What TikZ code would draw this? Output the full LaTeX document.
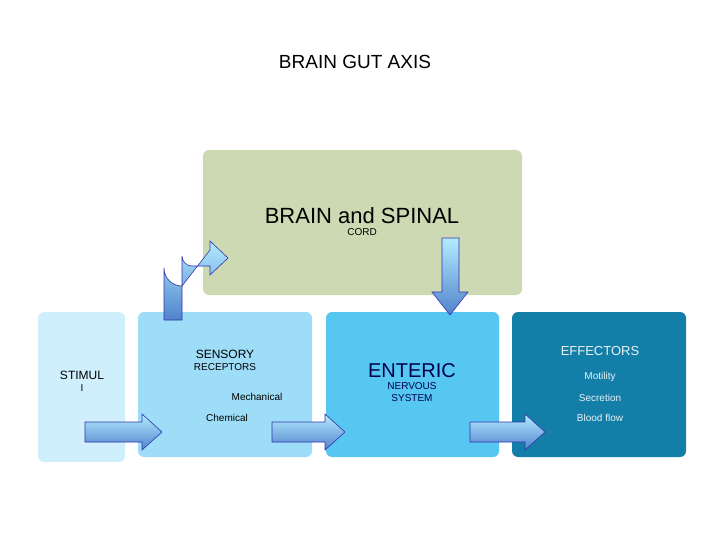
\documentclass[tikz,border=0pt]{standalone}
\usepackage{fontspec}
\setmainfont{Liberation Sans}
\begin{document}
\begin{tikzpicture}[x=1pt,y=-1pt,
  box/.style={rounded corners=6pt,draw=none},
  barrow/.style={draw=blue!60!black!80,line width=0.6pt,top color=blue!25!cyan!30,bottom color=blue!60!cyan!60!white!80!black}]
\useasboundingbox (0,0) rectangle (720,540);
\definecolor{g}{HTML}{CDD9B2}
\definecolor{c1}{HTML}{CFEFFC}
\definecolor{c2}{HTML}{9EDDF7}
\definecolor{c3}{HTML}{55C7F0}
\definecolor{c4}{HTML}{137FA8}
\node (title) at (355,62) {\fontsize{19}{22}\selectfont BRAIN GUT AXIS};
\fill[g,box] (203,150) rectangle (522,295);
\node[align=center] (brain) at (362,222) {\fontsize{22}{26}\selectfont BRAIN and SPINAL\\CORD};
\fill[c1,box] (38,312) rectangle (125,462);
\node[align=center] (stim) at (82,381) {\fontsize{12}{13}\selectfont STIMUL\\I};
\fill[c2,box] (138,312) rectangle (312,457);
\node[align=center] (sens) at (225,360) {\fontsize{12}{12}\selectfont SENSORY\\RECEPTORS};
\node (mech) at (257,397) {\fontsize{10}{12}\selectfont Mechanical};
\node (chem) at (227,418) {\fontsize{10}{12}\selectfont Chemical};
\fill[c3,box] (326,312) rectangle (499,457);
\node[align=center,text=blue!30!black] (ens) at (412,383) {\fontsize{20}{24}\selectfont ENTERIC\\NERVOUS\\SYSTEM};
\fill[c4,box] (512,312) rectangle (686,457);
\node[text=white!90!c4] (eff) at (600,351) {\fontsize{13}{14}\selectfont EFFECTORS};
\node[text=white!90!c4] (mot) at (600,377) {\fontsize{10}{12}\selectfont Motility};
\node[text=white!90!c4] (sec) at (600,398) {\fontsize{10}{12}\selectfont Secretion};
\node[text=white!90!c4] (bf) at (600,418) {\fontsize{10}{12}\selectfont Blood flow};
% right block arrows
\foreach \a/\b in {85/162, 272/345, 470/545}{
  \path[barrow] (\a,422) -- (\b-20,422) -- (\b-20,414) -- (\b,432) -- (\b-20,450) -- (\b-20,442) -- (\a,442) -- cycle;
}
% bent arrow
\path[barrow] (164,320) -- (164,268) arc[start angle=180,end angle=270,x radius=18,y radius=-18] -- (210,250) -- (210,241) -- (228,258) -- (210,275) -- (210,266) -- (192,266) arc[start angle=270,end angle=180,x radius=10,y radius=-10] -- (182,320) -- cycle;
% down arrow
\path[barrow] (442,238) -- (459,238) -- (459,292) -- (468,292) -- (450,315) -- (432,292) -- (442,292) -- cycle;
\end{tikzpicture}
\end{document}
